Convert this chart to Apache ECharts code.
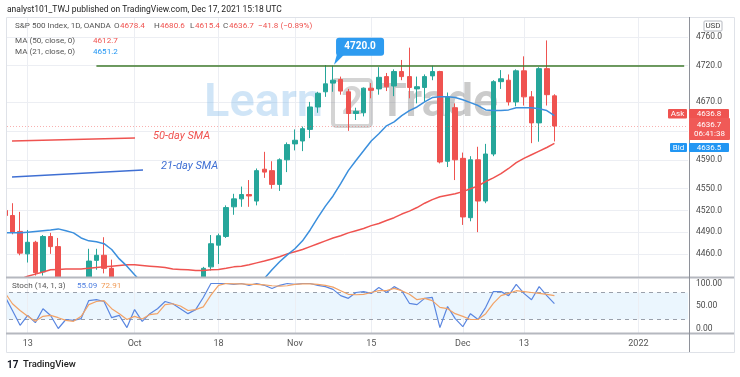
<!DOCTYPE html>
<html>
<head>
<meta charset="utf-8">
<script src="https://cdn.jsdelivr.net/npm/echarts@6/dist/echarts.min.js"></script>
<style>
  html, body { margin: 0; background: #fff; }
  #chart { width: 740px; height: 377px; }
</style>
</head>
<body>
<div id="chart"></div>
<script>
// daily bars, [open, high, low, close], from Sep 8 2021 to Dec 17 2021 (weekdays)
const candles = [
  [4520, 4528, 4504, 4513], [4513, 4530, 4487, 4490], [4491, 4518, 4458, 4461], [4460, 4493, 4448, 4476],
  [4476, 4478, 4430, 4434], [4435, 4486, 4430, 4484], [4484, 4489, 4460, 4470], [4470, 4482, 4422, 4428],
  [4420, 4425, 4305, 4357], [4360, 4395, 4345, 4355], [4355, 4416, 4345, 4395], [4400, 4467, 4398, 4450],
  [4451, 4467, 4438, 4458], [4458, 4483, 4433, 4440], [4440, 4452, 4345, 4352], [4358, 4385, 4345, 4360],
  [4370, 4382, 4305, 4308], [4317, 4375, 4289, 4357], [4348, 4355, 4279, 4300], [4310, 4369, 4305, 4345],
  [4320, 4365, 4278, 4363], [4380, 4426, 4375, 4399], [4407, 4413, 4386, 4391], [4390, 4415, 4360, 4361],
  [4368, 4374, 4343, 4350], [4358, 4372, 4341, 4363], [4390, 4442, 4385, 4440], [4442, 4486, 4437, 4474],
  [4472, 4488, 4446, 4485], [4484, 4527, 4482, 4524], [4525, 4543, 4514, 4536], [4536, 4553, 4525, 4542],
  [4542, 4562, 4525, 4540], [4533, 4578, 4527, 4575], [4577, 4601, 4565, 4573], [4575, 4588, 4550, 4556],
  [4556, 4592, 4547, 4590], [4590, 4614, 4573, 4611], [4612, 4632, 4603, 4617], [4616, 4636, 4602, 4633],
  [4632, 4670, 4620, 4663], [4663, 4684, 4655, 4682], [4684, 4721, 4677, 4695], [4696, 4720, 4684, 4700],
  [4701, 4705, 4680, 4685], [4684, 4688, 4630, 4654], [4654, 4662, 4645, 4657], [4655, 4690, 4650, 4689],
  [4689, 4696, 4675, 4686], [4688, 4718, 4680, 4704], [4705, 4710, 4685, 4691], [4692, 4715, 4678, 4712],
  [4712, 4728, 4700, 4705], [4705, 4745, 4675, 4690], [4688, 4705, 4668, 4691], [4690, 4708, 4670, 4705],
  [4706, 4720, 4700, 4712], [4712, 4713, 4585, 4587], [4588, 4683, 4580, 4677], [4662, 4668, 4562, 4590],
  [4592, 4600, 4500, 4511], [4510, 4595, 4505, 4590], [4590, 4608, 4490, 4533], [4533, 4612, 4530, 4598],
  [4598, 4700, 4595, 4698], [4698, 4714, 4688, 4702], [4700, 4708, 4665, 4670], [4670, 4715, 4664, 4713],
  [4713, 4733, 4665, 4677], [4677, 4685, 4613, 4641], [4641, 4718, 4615, 4716], [4716, 4755, 4665, 4680],
  [4678.4, 4680.6, 4615.4, 4636.7]
];

const ma50 = [
  4418, 4421, 4425, 4429, 4432, 4435, 4438, 4438.5, 4439, 4439, 4439, 4440, 4441, 4442, 4443, 4444,
  4445, 4445, 4444, 4443, 4442, 4441, 4439, 4438.5, 4438, 4437, 4437, 4438, 4438.5, 4440, 4442, 4443,
  4445, 4447.5, 4450, 4453, 4456, 4460, 4463, 4466, 4470, 4474, 4478, 4482, 4485, 4489, 4492, 4495,
  4499, 4502, 4506, 4510, 4515, 4519, 4524, 4530, 4535, 4539, 4541, 4543, 4546, 4550, 4554, 4560,
  4565, 4571, 4578, 4586, 4592, 4597, 4602, 4607, 4612.7
];

const ma21 = [
  4489, 4489, 4489, 4490, 4491, 4492, 4493, 4494.5, 4492, 4489, 4482, 4478, 4476.6, 4474, 4466, 4453,
  4443, 4431, 4420, 4410, 4402, 4395, 4390, 4385, 4380, 4377, 4376, 4378, 4382, 4388, 4395, 4402,
  4410, 4418, 4426, 4438, 4449, 4458.6, 4467, 4478, 4493, 4510, 4526, 4540, 4557, 4575, 4589, 4602.4,
  4616, 4626, 4637, 4642.5, 4651, 4658, 4663, 4670, 4676, 4677, 4677, 4676, 4673, 4669, 4665, 4659,
  4658, 4658, 4659, 4662, 4662, 4662, 4660.5, 4658, 4651.2
];

const stochK = [
  72, 40, 7, 29, 13, 44, 29, 0, 20, 18, 22, 62, 64, 60, 24, 29,
  2, 42, 16, 33, 44, 60, 55, 44, 33, 42, 69, 100, 100, 100, 98, 100,
  96, 100, 96, 89, 96, 100, 98, 100, 100, 96, 93, 87, 73, 67, 80, 82,
  78, 91, 80, 93, 84, 56, 53, 67, 69, 2, 49, 22, 4, 33, 20, 47,
  82, 82, 73, 98, 78, 64, 93, 73, 55.09
];

const stochD = [
  80, 55, 40, 27, 16, 27, 29, 24, 18, 16, 27, 53, 60, 62, 44, 33,
  20, 27, 21, 31, 33, 53, 55, 50, 40, 42, 48, 74, 96, 100, 99, 99,
  98, 98, 97, 95, 94, 95, 98, 99, 99, 98, 96, 92, 84, 76, 75, 76,
  80, 84, 84, 89, 84, 76, 64, 67, 62, 47, 44, 33, 27, 20, 20, 33,
  56, 73, 78, 84, 82, 80, 78, 76, 72.91
];

const priceTicks = [4760, 4720, 4670, 4630, 4590, 4550, 4520, 4490, 4460];
const stochTicks = [0, 50, 100];
const timeLabels = {
  '2021-09-13': '13', '2021-10-01': 'Oct', '2021-10-18': '18', '2021-11-01': 'Nov',
  '2021-11-15': '15', '2021-12-01': 'Dec', '2021-12-13': '13', '2022-01-03': '2022'
};
const resistance = 4720;
const lastClose = 4636.7, askPrice = 4636.8, bidPrice = 4636.5;

// 90 weekday slots, the last ones empty (future)
const dates = [];
for (let d = new Date(Date.UTC(2021, 8, 8)); dates.length < 90; d.setUTCDate(d.getUTCDate() + 1)) {
  const w = d.getUTCDay();
  if (w > 0 && w < 6) dates.push(d.toISOString().slice(0, 10));
}

const UP = '#26a69a', DOWN = '#ef5350', BLUE = '#2196f3';
const FONT = 'Roboto, "DejaVu Sans", sans-serif';
const gridColor = '#eceef3';
const vLines = Object.keys(timeLabels).map(d => ({ xAxis: d }));

const chart = echarts.init(document.getElementById('chart'), null, { renderer: 'canvas' });

chart.setOption({
  animation: false,
  backgroundColor: '#fff',
  textStyle: { fontFamily: FONT },
  grid: [
    { left: 1, right: 52, top: 18, height: 259 },
    { left: 1, right: 52, top: 279, height: 54 }
  ],
  xAxis: [
    { type: 'category', gridIndex: 0, data: dates, boundaryGap: true,
      axisLine: { show: false }, axisTick: { show: false }, axisLabel: { show: false }, splitLine: { show: false } },
    { type: 'category', gridIndex: 1, data: dates, boundaryGap: true, z: 20,
      axisLine: { show: false }, axisTick: { show: false }, splitLine: { show: false },
      axisLabel: { interval: (i, v) => v in timeLabels, formatter: v => timeLabels[v] || '',
        color: '#555', fontSize: 9, margin: 6, fontFamily: FONT } }
  ],
  yAxis: [
    { type: 'value', gridIndex: 0, position: 'right', min: 4428, max: 4786, interval: 2, z: 20,
      axisLine: { show: false }, axisTick: { show: false }, splitLine: { show: false },
      axisLabel: { formatter: v => priceTicks.includes(v) ? v.toFixed(1) : '',
        color: '#4a4a4a', fontSize: 8.5, margin: 8, fontFamily: FONT } },
    { type: 'value', gridIndex: 1, position: 'right', min: -10, max: 110, interval: 10, z: 20,
      axisLine: { show: false }, axisTick: { show: false }, splitLine: { show: false },
      axisLabel: { formatter: v => stochTicks.includes(v) ? v.toFixed(2) : '',
        color: '#4a4a4a', fontSize: 8.5, margin: 8, fontFamily: FONT } }
  ],
  series: [
    { // grid lines of the price pane
      type: 'line', data: [], xAxisIndex: 0, yAxisIndex: 0, z: 1, silent: true,
      markLine: { z: 1, silent: true, symbol: 'none', label: { show: false },
        lineStyle: { color: gridColor, width: 1, type: 'solid' },
        data: vLines.concat(priceTicks.map(v => ({ yAxis: v }))) }
    },
    { // grid lines and band of the stoch pane (drawn above the cover sheet)
      type: 'line', data: [], xAxisIndex: 1, yAxisIndex: 1, z: 6, silent: true,
      markLine: { z: 7, silent: true, symbol: 'none', label: { show: false },
        lineStyle: { color: gridColor, width: 1, type: 'solid' }, data: vLines },
      markArea: { z: 6, silent: true, itemStyle: { color: 'rgba(33,150,243,0.09)' },
        data: [[{ yAxis: 20 }, { yAxis: 80 }]] }
    },
    {
      type: 'line', data: [], xAxisIndex: 1, yAxisIndex: 1, z: 7, silent: true,
      markLine: { z: 8, silent: true, symbol: 'none', label: { show: false },
        lineStyle: { color: '#9aa0ab', width: 1, type: [4, 4] },
        data: [{ yAxis: 20 }, { yAxis: 80 }] }
    },
    {
      name: 'SPX', type: 'candlestick', xAxisIndex: 0, yAxisIndex: 0, z: 3, clip: true,
      barWidth: 5,
      data: candles.map(([o, h, l, c]) => [o, c, l, h]),
      itemStyle: { color: UP, color0: DOWN, borderColor: UP, borderColor0: DOWN, borderWidth: 1 },
      markLine: { z: 4, silent: true, symbol: 'none', label: { show: false },
        data: [
          [{ coord: [dates[12], resistance], lineStyle: { color: '#3f7a2c', width: 1.6, type: 'solid' } },
           { coord: [dates[89], resistance] }],
          { yAxis: lastClose, lineStyle: { color: 'rgba(239,83,80,0.45)', width: 1, type: [1, 2] } }
        ] }
    },
    { name: 'MA 50', type: 'line', xAxisIndex: 0, yAxisIndex: 0, z: 4, data: ma50, showSymbol: false,
      lineStyle: { color: '#ef5350', width: 1.5 } },
    { name: 'MA 21', type: 'line', xAxisIndex: 0, yAxisIndex: 0, z: 4, data: ma21, showSymbol: false,
      lineStyle: { color: '#3b8fdd', width: 1.5 } },
    { name: '%K', type: 'line', xAxisIndex: 1, yAxisIndex: 1, z: 9, data: stochK, showSymbol: false,
      lineStyle: { color: '#5a86e0', width: 1.2 } },
    { name: '%D', type: 'line', xAxisIndex: 1, yAxisIndex: 1, z: 9, data: stochD, showSymbol: false,
      lineStyle: { color: '#f2a266', width: 1.2 } }
  ]
});

// overlays placed from the chart's own scales
const yc = chart.convertToPixel({ yAxisIndex: 0 }, lastClose);
const [cx, cy] = chart.convertToPixel({ gridIndex: 0 }, [dates[43], resistance]);

function txt(x, y, text, font, fill, align, extra) {
  return Object.assign({ type: 'text', x: x, y: y, z: 110,
    style: { text: text, font: font, fill: fill, align: align || 'left', verticalAlign: 'middle',
      textAlign: align || 'left', textVerticalAlign: 'middle' } }, extra || {});
}
function tag(x, y, w, h, fill) {
  return { type: 'rect', z: 105, shape: { x: x, y: y, width: w, height: h, r: 1 }, style: { fill: fill } };
}
const red = '#ef5350', grey = '#555';
const f8 = '8px ' + FONT;
const fh = '8.5px ' + FONT;
const fl = '8.1px ' + FONT;
const fw = '600 47px ' + FONT;

chart.setOption({
  graphic: [
    // watermark
    txt(204, 104, 'Learn', fw, 'rgba(120,180,232,0.35)', 'left', { z: 1 }),
    { type: 'rect', z: 1, shape: { x: 333, y: 80, width: 38, height: 46, r: 3 },
      style: { fill: null, stroke: 'rgba(120,120,120,0.32)', lineWidth: 4 } },
    txt(352, 104, '2', '600 38px ' + FONT, 'rgba(120,120,120,0.32)', 'center', { z: 1 }),
    txt(378, 104, 'Trade', fw, 'rgba(110,110,110,0.36)', 'left', { z: 1 }),

    // white sheet under the stoch pane so price bars do not spill into it
    { type: 'rect', z: 5, shape: { x: 0, y: 278, width: 740, height: 99 }, style: { fill: '#fff' } },
    // hide the sliver left of the frame
    { type: 'rect', z: 100, shape: { x: 0, y: 17, width: 6, height: 337 }, style: { fill: '#fff' } },
    // frame and pane separators
    { type: 'rect', z: 101, shape: { x: 6.5, y: 17.5, width: 728, height: 335 },
      style: { fill: null, stroke: '#dfe2e8', lineWidth: 1 } },
    { type: 'line', z: 101, shape: { x1: 6, y1: 277.5, x2: 734, y2: 277.5 }, style: { stroke: '#b5b8bf', lineWidth: 2 } },
    { type: 'line', z: 101, shape: { x1: 6, y1: 333.5, x2: 734, y2: 333.5 }, style: { stroke: '#b5b8bf', lineWidth: 2 } },
    { type: 'line', z: 101, shape: { x1: 689.5, y1: 17, x2: 689.5, y2: 352 }, style: { stroke: '#8e9199', lineWidth: 1 } },

    // header and legend
    txt(7, 10, 'analyst101_TWJ published on TradingView.com, Dec 17, 2021 15:18 UTC', fh, '#222'),
    txt(15, 26, 'S&P 500 Index, 1D, OANDA', fl, grey),
    txt(114, 26, 'O', fl, grey), txt(120, 26, '4678.4', fl, red),
    txt(154, 26, 'H', fl, grey), txt(160, 26, '4680.6', fl, red),
    txt(190, 26, 'L', fl, grey), txt(195, 26, '4615.4', fl, red),
    txt(223, 26, 'C', fl, grey), txt(229, 26, '4636.7', fl, red),
    txt(258, 26, '−41.8 (−0.89%)', fl, red),
    txt(15, 41, 'MA (50, close, 0)', fl, grey), txt(93, 41, '4612.7', fl, red),
    txt(15, 52, 'MA (21, close, 0)', fl, grey), txt(93, 52, '4651.2', fl, BLUE),

    // resistance callout
    { type: 'polygon', z: 106, shape: { points: [[cx + 1, cy - 1], [cx + 4, cy - 12], [cx + 12, cy - 12]] }, style: { fill: '#2d9bf0' } },
    { type: 'rect', z: 106, shape: { x: cx + 3, y: cy - 28, width: 48, height: 18, r: 3 }, style: { fill: '#2d9bf0' } },
    txt(cx + 27, cy - 19, '4720.0', 'bold 10px ' + FONT, '#fff', 'center'),

    // hand drawn SMA notes
    { type: 'line', z: 106, shape: { x1: 12, y1: 141, x2: 135, y2: 138 }, style: { stroke: '#ef5350', lineWidth: 1.6 } },
    txt(153, 136, '50-day SMA', 'italic 11px ' + FONT, '#ef5350'),
    { type: 'line', z: 106, shape: { x1: 12, y1: 177, x2: 143, y2: 170 }, style: { stroke: '#3f6fd3', lineWidth: 1.6 } },
    txt(161, 166, '21-day SMA', 'italic 11px ' + FONT, '#3f6fd3'),

    // currency box
    { type: 'rect', z: 106, shape: { x: 704, y: 21, width: 18, height: 10, r: 1 }, style: { fill: '#fff', stroke: '#b5b8bf' } },
    txt(713, 26, 'USD', f8, '#444', 'center'),

    // price tags
    tag(668, yc - 17, 19, 9.5, red), txt(677.5, yc - 12.2, 'Ask', f8, '#fff', 'center'),
    tag(689, yc - 17, 40, 9.5, red), txt(709, yc - 12.2, askPrice.toFixed(1), f8, '#fff', 'center'),
    tag(689, yc - 8, 41, 22, '#f05a57'),
    txt(709, yc - 1.5, lastClose.toFixed(1), f8, '#fff', 'center'),
    txt(709.5, yc + 8, '06:41:38', f8, '#fff', 'center'),
    tag(670, yc + 17, 17, 9, BLUE), txt(678.5, yc + 21.5, 'Bid', f8, '#fff', 'center'),
    tag(689, yc + 17, 40, 9, BLUE), txt(709, yc + 21.5, bidPrice.toFixed(1), f8, '#fff', 'center'),

    // stoch legend
    txt(12, 286, 'Stoch (14, 1, 3)', fl, grey),
    txt(77, 286, '55.09', fl, '#4f7fe0'),
    txt(101, 286, '72.91', fl, '#f09a55'),

    // footer logo
    txt(7, 365, '17', 'bold 10px ' + FONT, '#131722'),
    txt(23, 365, 'TradingView', '500 9.5px ' + FONT, '#222')
  ]
});
</script>
</body>
</html>
